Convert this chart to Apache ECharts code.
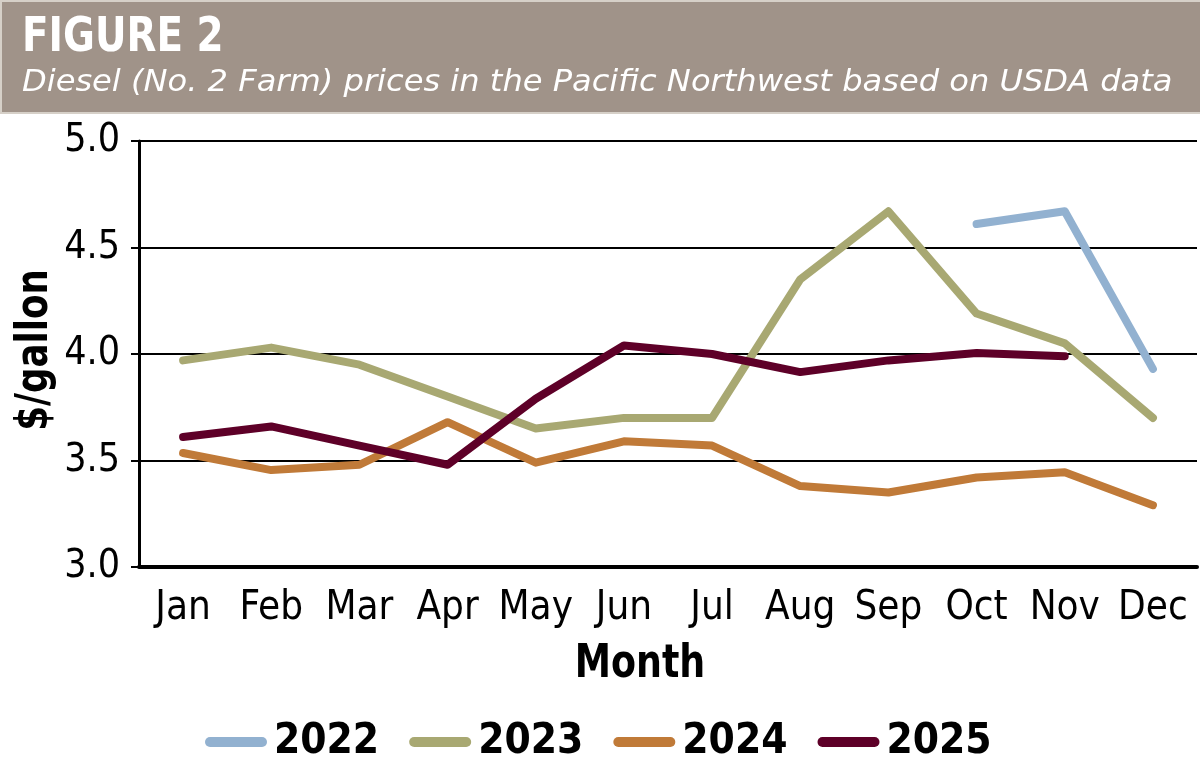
<!DOCTYPE html>
<html>
<head>
<meta charset="utf-8">
<script src="https://cdn.jsdelivr.net/npm/echarts@6/dist/echarts.min.js"></script>
<style>
  html, body { margin: 0; padding: 0; background: #fff; }
  #chart { width: 1200px; height: 777px; }
</style>
</head>
<body>
<div id="chart"></div>
<script>
var months = ['Jan', 'Feb', 'Mar', 'Apr', 'May', 'Jun', 'Jul', 'Aug', 'Sep', 'Oct', 'Nov', 'Dec'];
var years = ['2022', '2023', '2024', '2025'];
var colors = ['#92b1d0', '#a8a872', '#c07a38', '#5e0028'];

// $/gallon
var p2022 = [null, null, null, null, null, null, null, null, null, 4.61, 4.67, 3.93];
var p2023 = [3.97, 4.03, 3.95, 3.80, 3.65, 3.70, 3.70, 4.35, 4.67, 4.19, 4.05, 3.70];
var p2024 = [3.535, 3.455, 3.48, 3.68, 3.49, 3.59, 3.57, 3.38, 3.35, 3.42, 3.445, 3.29];
var p2025 = [3.61, 3.66, 3.57, 3.48, 3.79, 4.04, 4.00, 3.915, 3.97, 4.005, 3.99, null];

var cond = '"DejaVu Sans Condensed", "Liberation Sans Narrow", sans-serif';

var chart = echarts.init(document.getElementById('chart'));

var lineIcon = 'path://M5,0 L57,0 A5,5 0 0 1 57,10 L5,10 A5,5 0 0 1 5,0 Z';

var series = [p2022, p2023, p2024, p2025].map(function (d, i) {
    return {
        name: years[i],
        type: 'line',
        data: d,
        symbol: 'none',
        connectNulls: false,
        lineStyle: { width: 8, color: colors[i], cap: 'round', join: 'round' },
        itemStyle: { color: colors[i] }
    };
});

chart.setOption({
    animation: false,
    backgroundColor: '#fff',
    graphic: [
        { type: 'rect', left: 0, top: 0, shape: { width: 1200, height: 112 },
          style: { fill: '#a09389', stroke: '#d6d0c8', lineWidth: 2 }, z: -1 },
        { type: 'text', x: 22, y: 15, scaleX: 0.9,
          style: { text: 'FIGURE 2', fill: '#fff', font: 'bold 48px ' + cond } },
        { type: 'text', x: 22, y: 68, scaleX: 1.07,
          style: { text: 'Diesel (No. 2 Farm) prices in the Pacific Northwest based on USDA data',
                   fill: '#fff', font: 'italic 30px "DejaVu Sans", sans-serif' } },
        { type: 'text', x: 640, y: 665, scaleX: 0.88,
          style: { text: 'Month', fill: '#000', font: 'bold 46px ' + cond,
                   align: 'center', verticalAlign: 'middle' } },
        { type: 'text', x: 36, y: 350, rotation: Math.PI / 2, scaleX: 0.9,
          style: { text: '$/gallon', fill: '#000', font: 'bold 44px ' + cond,
                   align: 'center', verticalAlign: 'middle' } }
    ],
    grid: { left: 139, right: 3, top: 141, bottom: 210, outerBoundsMode: 'none', containLabel: false },
    legend: {
        top: 716,
        left: 200,
        itemWidth: 62,
        itemHeight: 10,
        itemGap: 30,
        icon: lineIcon,
        data: years,
        textStyle: { fontFamily: cond, fontWeight: 'bold', fontSize: 42, color: '#000', padding: [0, 0, 0, 2] }
    },
    xAxis: {
        type: 'category',
        data: months,
        boundaryGap: true,
        axisLine: { lineStyle: { color: '#000', width: 4 } },
        axisTick: { show: false },
        axisLabel: { fontFamily: cond, fontSize: 40, color: '#000', margin: 22, interval: 0 },
        splitLine: { show: false }
    },
    yAxis: {
        type: 'value',
        min: 3,
        max: 5,
        interval: 0.5,
        axisLine: { show: true, lineStyle: { color: '#000', width: 3 } },
        axisTick: { show: true, length: 8, lineStyle: { color: '#000', width: 2 } },
        axisLabel: {
            fontFamily: cond, fontSize: 39, color: '#000', margin: 19,
            formatter: function (v) { return v.toFixed(1); }
        },
        splitLine: { lineStyle: { color: '#000', width: 2 } }
    },
    series: series
});
</script>
</body>
</html>
